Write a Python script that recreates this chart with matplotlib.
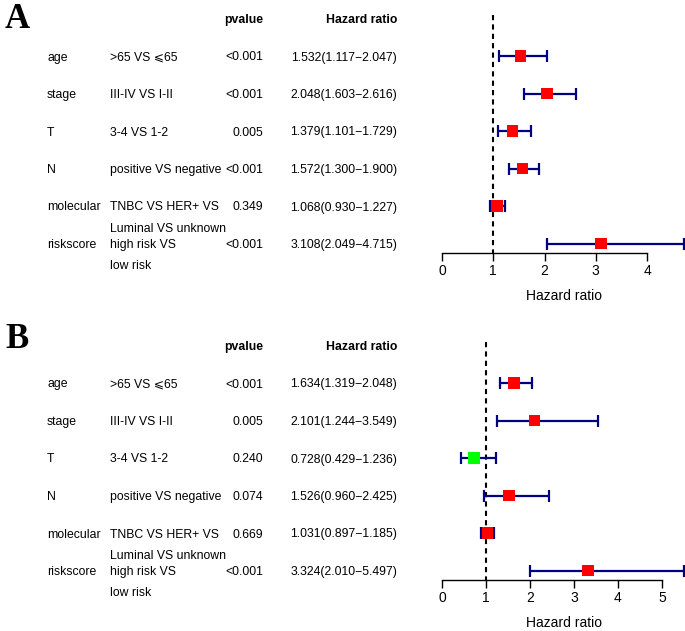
import matplotlib
matplotlib.use('Agg')
import matplotlib.pyplot as plt
import matplotlib.transforms as mtransforms

plt.rcParams['font.family'] = ['Liberation Sans', 'DejaVu Sans']

variables = ['age', 'stage', 'T', 'N', 'molecular', 'riskscore']
groups = ['>65 VS \u2a7d65', 'III-IV VS I-II', '3-4 VS 1-2', 'positive VS negative',
          'TNBC VS HER+ VS\nLuminal VS unknown', 'high risk VS\nlow risk']

# panel A
pval_a = ['<0.001', '<0.001', '0.005', '<0.001', '0.349', '<0.001']
hr_a = [1.532, 2.048, 1.379, 1.572, 1.068, 3.108]
low_a = [1.117, 1.603, 1.101, 1.300, 0.930, 2.049]
high_a = [2.047, 2.616, 1.729, 1.900, 1.227, 4.715]
ticks_a = [0, 1, 2, 3, 4]

# panel B
pval_b = ['<0.001', '0.005', '0.240', '0.074', '0.669', '<0.001']
hr_b = [1.634, 2.101, 0.728, 1.526, 1.031, 3.324]
low_b = [1.319, 1.244, 0.429, 0.960, 0.897, 2.010]
high_b = [2.048, 3.549, 1.236, 2.425, 1.185, 5.497]
ticks_b = [0, 1, 2, 3, 4, 5]

W, H = 685, 631
fig = plt.figure(figsize=(W / 100, H / 100), dpi=100)

ROW = 37.5  # px per row
FS = 8.8


def panel(letter, top_px, bot_px, row0_px, pvals, hr, low, high, ticks, px_per_unit):
    left_px = 442
    ax = fig.add_axes([left_px / W, 1 - bot_px / H, (W - left_px) / W, (bot_px - top_px) / H])
    ax.set_xlim(0, (W - left_px) / px_per_unit)
    ax.set_ylim((bot_px - row0_px) / ROW, (top_px - row0_px) / ROW)
    n = len(hr)
    rows = list(range(n))
    axis_y = n - 1 + 0.25

    for sp in ['top', 'right', 'left']:
        ax.spines[sp].set_visible(False)
    ax.spines['bottom'].set_position(('data', axis_y))
    ax.spines['bottom'].set_bounds(ticks[0], ticks[-1])
    ax.spines['bottom'].set_linewidth(1.0)
    ax.set_xticks(ticks)
    ax.tick_params(axis='x', length=6, width=1.0, pad=2, labelsize=10)
    ax.set_yticks([])
    ax.patch.set_visible(False)

    ax.vlines(1, -1.1, axis_y, colors='black', linewidth=1.5, linestyles=(0, (2.5, 2)))

    ax.errorbar(hr, rows, xerr=[[h - l for h, l in zip(hr, low)], [u - h for h, u in zip(hr, high)]],
                fmt='none', ecolor='#000080', elinewidth=1.6, capsize=4, capthick=1.6,
                clip_on=False, zorder=3)
    colors = ['#00ff00' if h < 1 else '#ff0000' for h in hr]
    ax.scatter(hr, rows, marker='s', s=70, c=colors, zorder=4, clip_on=False, linewidths=0)

    blend = mtransforms.blended_transform_factory(ax.transAxes, ax.transData)
    ax.text(0.5, 6.4, 'Hazard ratio', transform=blend, ha='center', va='center', fontsize=10)

    tr = mtransforms.blended_transform_factory(fig.transFigure, ax.transData)
    kw = dict(transform=tr, va='center_baseline', fontsize=FS)
    ax.text(244 / W, -1.0, 'pvalue', ha='center', fontweight='bold', **kw)
    ax.text(397 / W, -1.0, 'Hazard ratio', ha='right', fontweight='bold', **kw)
    for i in rows:
        ax.text(47 / W, i, variables[i], ha='left', **kw)
        lines = groups[i].split('\n')
        ax.text(110 / W, i, lines[0], ha='left', **kw)
        if len(lines) > 1:
            off = 0.58 if i < n - 1 else 0.56
            ax.text(110 / W, i + off, lines[1], ha='left', **kw)
        ax.text(263 / W, i, pvals[i], ha='right', **kw)
        ax.text(397 / W, i, '%.3f(%.3f\u2212%.3f)' % (hr[i], low[i], high[i]), ha='right', **kw)
    fig.text(5 / W, 1 - (top_px + 3) / H, letter, fontsize=25, fontweight='bold',
             family='Liberation Serif', ha='left', va='top')
    return ax


panel('A', 0, 310, 56, pval_a, hr_a, low_a, high_a, ticks_a, 51.25)
panel('B', 320, 631, 383, pval_b, hr_b, low_b, high_b, ticks_b, 44.0)

fig.savefig('out.png', dpi=100)
